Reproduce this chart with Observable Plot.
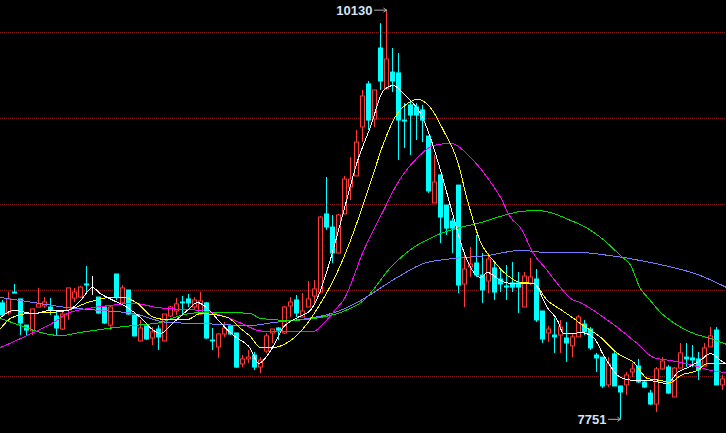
<!DOCTYPE html>
<html><head><meta charset="utf-8">
<script src="https://cdn.jsdelivr.net/npm/d3@7"></script>
<script src="https://cdn.jsdelivr.net/npm/@observablehq/plot@0.6"></script>
<style>html,body{margin:0;padding:0;background:#000;overflow:hidden}</style>
</head><body><div id="chart"></div>
<script>
// OHLC per bar (121 bars)
const open = [8425,8366,8488,8448,8296,8262,8401,8407,8401,8349,
8273,8384,8453,8459,8535,8535,8459,8401,8296,8593,
8425,8500,8355,8204,8291,8221,8273,8204,8349,8378,
8430,8448,8401,8360,8425,8209,8169,8244,8291,8250,
8070,8099,8122,8052,8145,8250,8279,8250,8407,8442,
8343,8401,8465,8488,8942,8866,8715,8942,9099,9163,
9448,9698,9494,9907,9669,9767,9762,9488,9576,9564,
9547,9395,9006,9169,8994,8901,9110,8535,8634,8657,
8587,8552,8628,8564,8523,8541,8541,8401,8541,8564,
8378,8250,8238,8238,8221,8175,8227,8302,8273,8122,
8110,7948,8128,7942,7948,8023,8058,7965,7901,7837,
8041,8052,7878,8046,8110,8105,8099,8058,8169,8267,
7948];
const close = [8355,8448,8482,8308,8267,8390,8419,8430,8384,8279,
8360,8512,8488,8517,8529,8535,8366,8308,8401,8459,
8512,8360,8233,8279,8215,8256,8227,8360,8401,8419,
8425,8425,8442,8436,8221,8204,8244,8279,8244,8052,
8099,8110,8052,8093,8233,8273,8267,8401,8430,8366,
8378,8448,8506,8924,8866,8715,8936,9145,9145,9360,
9628,9488,9663,9715,9843,9715,9488,9482,9517,9517,
9488,9076,9128,8924,8860,8860,8529,8622,8651,8587,
8500,8680,8488,8535,8517,8517,8517,8581,8576,8326,
8215,8273,8227,8285,8192,8227,8343,8256,8163,8105,
7942,8070,7942,7907,8006,8041,7965,7936,7837,8041,
8087,7901,8046,8134,8099,8093,8035,8163,8233,7948,
7983];
const high = [8442,8488,8535,8448,8296,8390,8512,8459,8453,8384,
8384,8512,8512,8523,8639,8581,8459,8401,8407,8593,
8529,8500,8355,8326,8291,8285,8296,8360,8407,8453,
8465,8477,8459,8488,8430,8279,8250,8314,8291,8250,
8122,8151,8140,8110,8250,8273,8285,8407,8459,8471,
8482,8552,8558,8930,9157,8936,8942,9163,9273,9430,
9663,9715,9663,10052,10130,9907,9878,9587,9605,9587,
9576,9395,9285,9169,8994,8918,9110,8715,8750,8820,
8715,8715,8657,8616,8645,8663,8605,8605,8686,8622,
8378,8291,8337,8326,8314,8250,8355,8326,8285,8134,
8110,8110,8140,7942,8023,8076,8099,7977,7919,8052,
8110,8064,8052,8192,8192,8180,8140,8192,8285,8285,
8006];
const low = [8349,8355,8482,8238,8238,8238,8401,8396,8355,8238,
8267,8326,8430,8453,8482,8471,8360,8302,8267,8442,
8413,8355,8230,8200,8210,8180,8151,8200,8343,8355,
8355,8401,8384,8355,8215,8151,8105,8227,8238,8046,
8052,8076,8035,8017,8134,8192,8209,8244,8343,8343,
8343,8401,8425,8482,8849,8657,8710,8942,9023,9163,
9360,9430,9448,9663,9669,9651,9256,9326,9285,9372,
9360,9064,9006,8773,8820,8715,8482,8401,8576,8576,
8425,8482,8442,8488,8442,8488,8366,8401,8529,8314,
8192,8198,8134,8134,8082,8110,8227,8238,8151,8023,
7930,7936,7942,7751,7890,7994,7959,7930,7831,7791,
8035,7895,7878,8046,8052,8052,7977,8058,8169,7948,
7919];

// Moving averages: bar position, value
const ma5Pos = [-0.3,1.8,5.2,8,10.8,13,15,16.3,18.5,20.8,23,25.2,26.3,28.5,30.8,32.5,34.2,36.3,38.5,41.3,42.7,44.7,46.8,49.2,51.3,53,54.7,56.8,59.2,61.3,63.5,65.2,66.3,68,69.7,71.3,73,75.2,76.8,79.7,80.8,83,84.7,88.5,90.8,92.5,93.5,95.2,96.3,98.5,100.2,103,105.2,107.5,109.7,110.8,112.5,114.2,116.3,118,119.7,120.7];
const ma5Val = [8343,8384,8366,8384,8384,8442,8517,8482,8442,8401,8343,8267,8250,8314,8384,8430,8395,8314,8238,8163,8076,8151,8285,8343,8384,8500,8686,8953,9256,9448,9663,9692,9663,9605,9529,9390,9198,8924,8733,8576,8605,8558,8541,8541,8401,8326,8250,8250,8256,8227,8122,7994,7977,7977,7965,7959,8023,8052,8093,8134,8093,8070];

const ma10Pos = [-0.3,1.3,4.2,8,10.8,14.2,18,20.2,22.5,25.2,27.5,30.8,33,37.5,39.7,41.3,43,45.2,48,50.8,53,54.7,56.3,58,61.3,63.5,65.8,67.5,69.2,71.3,73.5,75.8,77.5,79.7,81.8,84.2,86.3,88.5,90.8,93,95.2,96.3,99.7,102.5,105.2,107.5,109.7,111.3,113,115.8,117.5,120.7];
const ma10Val = [8279,8337,8366,8372,8384,8430,8459,8459,8425,8343,8331,8331,8366,8343,8279,8233,8169,8169,8209,8308,8425,8529,8645,8791,9122,9355,9529,9587,9611,9564,9430,9256,9023,8779,8674,8587,8547,8541,8442,8390,8337,8308,8227,8134,8082,7988,7977,7965,8006,8035,8076,8076];

const ma20Pos = [-0.3,5.2,8.5,10.8,14.2,18,21.8,25.8,29.7,33,37.5,41.3,42.5,44.2,51.8,53.5,55.8,56.8,60.2,63.5,65.8,69.2,71.8,74.7,78,80.8,83,84.7,86.3,88.5,90.8,93,94.7,96.3,100.2,105.8,108.5,111.3,115.2,118,120.7];
const ma20Val = [8169,8256,8314,8366,8395,8413,8425,8401,8390,8384,8343,8285,8267,8262,8262,8308,8401,8442,8733,8965,9122,9273,9343,9355,9273,9157,9041,8924,8866,8715,8616,8517,8453,8430,8343,8192,8110,8093,8064,8035,8023];

const ma40Pos = [-0.3,3,6.3,9.7,13,17.5,21.8,26.3,29.7,33,37.5,41.3,43,48,51.8,56.3,60.2,64.7,68.5,71.3,73,76.3,79.7,83.5,86.3,89.2,91.8,94.7,96.3,99.7,103,104.7,106.3,107.7,109.7,111.3,115.2,118,120.7];
const ma40Val = [8337,8296,8256,8238,8256,8279,8296,8314,8355,8372,8372,8366,8337,8326,8337,8372,8442,8634,8750,8802,8831,8866,8895,8936,8959,8965,8948,8907,8884,8808,8703,8645,8512,8453,8372,8326,8250,8221,8186];

const ma60Pos = [-0.3,5.2,10.8,16.3,21.8,27.5,33,41.3,45.2,50.8,54.2,56.3,59.7,65.8,70.2,75.2,80.8,86.3,90.8,96.3,99.7,108,116.3,120.7];
const ma60Val = [8459,8430,8401,8384,8366,8314,8308,8296,8314,8337,8360,8384,8442,8576,8657,8686,8703,8733,8721,8721,8710,8663,8587,8517];

const gridLevels = [10000, 9500, 9000, 8500, 8000];
const extremes = [{pos: 64, value: 10130, text: "10130"}, {pos: 103, value: 7751, text: "7751"}];

const bars = open.map((o, i) => ({i, open: o, close: close[i], high: high[i], low: low[i]}));
const UP = "#ff3a3a", DOWN = "#00ffff", DOJI = "#ffffff";
const col = d => d.close > d.open ? UP : d.close < d.open ? DOWN : DOJI;
const line = (pos, val) => pos.map((p, k) => ({p, v: val[k]}));
const maLine = (pos, val, color) => Plot.line(line(pos, val), {x: "p", y: "v", stroke: color, strokeWidth: 1, curve: "monotone-x", shapeRendering: "crispEdges"});

const chart = Plot.plot({
  width: 726, height: 433, margin: 0,
  x: {type: "linear", domain: [-1/3, 120 + 2/3], axis: null},
  y: {type: "linear", domain: [7668.5, 10186], axis: null},
  style: {background: "#000", overflow: "visible"},
  marks: [
    Plot.ruleY(gridLevels, {stroke: "#8c1a1a", strokeDasharray: "1,1", strokeWidth: 1}),
    Plot.ruleX(bars, {x: "i", y1: "low", y2: "high", stroke: col, strokeWidth: 1}),
    Plot.rect(bars, {x1: d => d.i - 0.25, x2: d => d.i + 0.4167,
      y1: d => Math.min(d.open, d.close), y2: d => Math.max(d.open, d.close),
      fill: d => d.close > d.open ? "#000" : col(d), stroke: col, strokeWidth: 1}),
    maLine(ma60Pos, ma60Val, "#7b7bff"),
    maLine(ma40Pos, ma40Val, "#00e000"),
    maLine(ma20Pos, ma20Val, "#ff00ff"),
    maLine(ma10Pos, ma10Val, "#ffff00"),
    maLine(ma5Pos, ma5Val, "#ffffff"),
    Plot.arrow(extremes, {x1: d => d.pos - 2, x2: "pos", y1: "value", y2: "value",
      stroke: "#b0b0b0", strokeWidth: 1, headLength: 5, headAngle: 70}),
    Plot.text(extremes, {x: "pos", y: "value", text: "text", textAnchor: "end", dx: -14, dy: 0.5,
      fill: "#d4e2f4", fontSize: 13, fontWeight: "bold", fontFamily: "Liberation Sans"})
  ]
});
document.getElementById("chart").appendChild(chart);
</script>
</body></html>
